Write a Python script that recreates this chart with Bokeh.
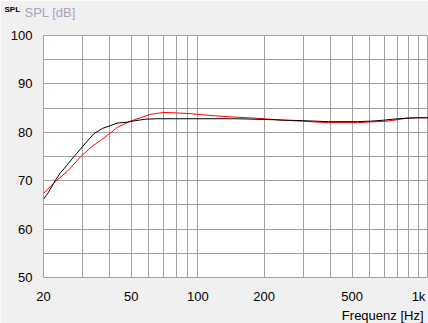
from bokeh.plotting import figure
from bokeh.models import Range1d, FixedTicker, Label, Title
from bokeh.embed import file_html
from bokeh.resources import INLINE

# Black curve (measurement)
black_f = [20, 21, 22.6, 23.9, 24.7, 27.4, 30, 33.8, 37, 40.3, 43.1, 47.9, 52, 58, 65, 80, 100, 151, 218, 298, 391, 529, 606, 695, 763, 874, 1000, 1110]
black_db = [66.2, 67.5, 70.0, 71.7, 72.4, 74.9, 77.0, 79.7, 80.8, 81.4, 81.9, 82.1, 82.4, 82.7, 82.8, 82.8, 82.8, 82.8, 82.6, 82.4, 82.2, 82.2, 82.3, 82.5, 82.7, 82.9, 83.0, 83.0]

# Red curve (simulation)
red_f = [20, 22.6, 25.6, 29.4, 33, 36.2, 40.3, 43.1, 49.5, 55, 61, 70, 80, 90, 100, 120, 140, 170, 200, 240, 300, 350, 391, 450, 529, 580, 650, 720, 800, 880, 950, 1000, 1110]
red_db = [67.4, 69.8, 71.9, 74.9, 77.0, 78.3, 79.9, 81.0, 82.3, 83.0, 83.7, 84.1, 84.0, 83.9, 83.7, 83.4, 83.2, 83.0, 82.8, 82.5, 82.3, 82.1, 82.0, 82.0, 82.0, 82.1, 82.2, 82.3, 82.6, 82.9, 83.0, 83.0, 83.0]

y_ticks = [50, 60, 70, 80, 90, 100]
y_grid = [50, 55, 60, 65, 70, 75, 80, 85, 90, 95, 100]
x_ticks = [20, 50, 100, 200, 500, 1000]
x_tick_labels = ["20", "50", "100", "200", "500", "1k"]
x_grid = [20, 30, 40, 50, 60, 70, 80, 90, 100, 200, 300, 400, 500, 600, 700, 800, 900, 1000]

FONT = "Liberation Sans"

p = figure(width=428, height=323, x_axis_type="log",
           x_range=Range1d(20, 1110), y_range=Range1d(50, 100),
           output_backend="svg", toolbar_location=None,
           min_border_left=43, min_border_right=0, min_border_top=0, min_border_bottom=0)
p.border_fill_color = "#f0f0f0"
p.background_fill_color = "white"
p.outline_line_color = "#a0a0a0"
p.outline_line_width = 1

for ax in (p.xaxis[0], p.yaxis[0]):
    ax.axis_line_color = None
    ax.major_tick_line_color = None
    ax.minor_tick_line_color = None
    ax.major_tick_out = 0
    ax.major_tick_in = 0
    ax.minor_tick_out = 0
    ax.minor_tick_in = 0
    ax.major_label_text_font = FONT
    ax.major_label_text_font_size = "13px"
    ax.major_label_text_color = "black"

p.xaxis[0].ticker = FixedTicker(ticks=x_ticks)
p.xaxis[0].major_label_overrides = {t: l for t, l in zip(x_ticks, x_tick_labels)}
p.xaxis[0].major_label_standoff = 11
p.yaxis[0].ticker = FixedTicker(ticks=y_ticks)
p.yaxis[0].major_label_overrides = {t: str(t) for t in y_ticks}
p.yaxis[0].major_label_standoff = 11

p.xgrid[0].ticker = FixedTicker(ticks=x_grid)
p.ygrid[0].ticker = FixedTicker(ticks=y_grid)
for g in (p.xgrid[0], p.ygrid[0]):
    g.grid_line_color = "#a0a0a0"
    g.grid_line_width = 1
    g.grid_line_alpha = 1.0

p.line(red_f, red_db, line_color="#ff0000", line_width=1)
p.line(black_f, black_db, line_color="black", line_width=1)

# Header: small bold "SPL" label (panel next to frame), "SPL [dB]" title on top
p.add_layout(Label(x=-39, y=31, x_units="screen", y_units="screen", text="SPL",
                   text_font=FONT, text_font_size="8px", text_font_style="bold",
                   text_color="black", text_baseline="top"), "above")
p.add_layout(Title(text="SPL [dB]", align="left", offset=-19, standoff=9,
                   vertical_align="top",
                   text_font=FONT, text_font_size="13px", text_font_style="normal",
                   text_color="#a9a2bd"), "above")
# Axis title below
p.add_layout(Title(text="Frequenz [Hz]", align="right", offset=5, standoff=0,
                   vertical_align="middle",
                   text_font=FONT, text_font_size="13px", text_font_style="normal",
                   text_color="black"), "below")

open("out.html", "w").write(file_html(p, INLINE))
